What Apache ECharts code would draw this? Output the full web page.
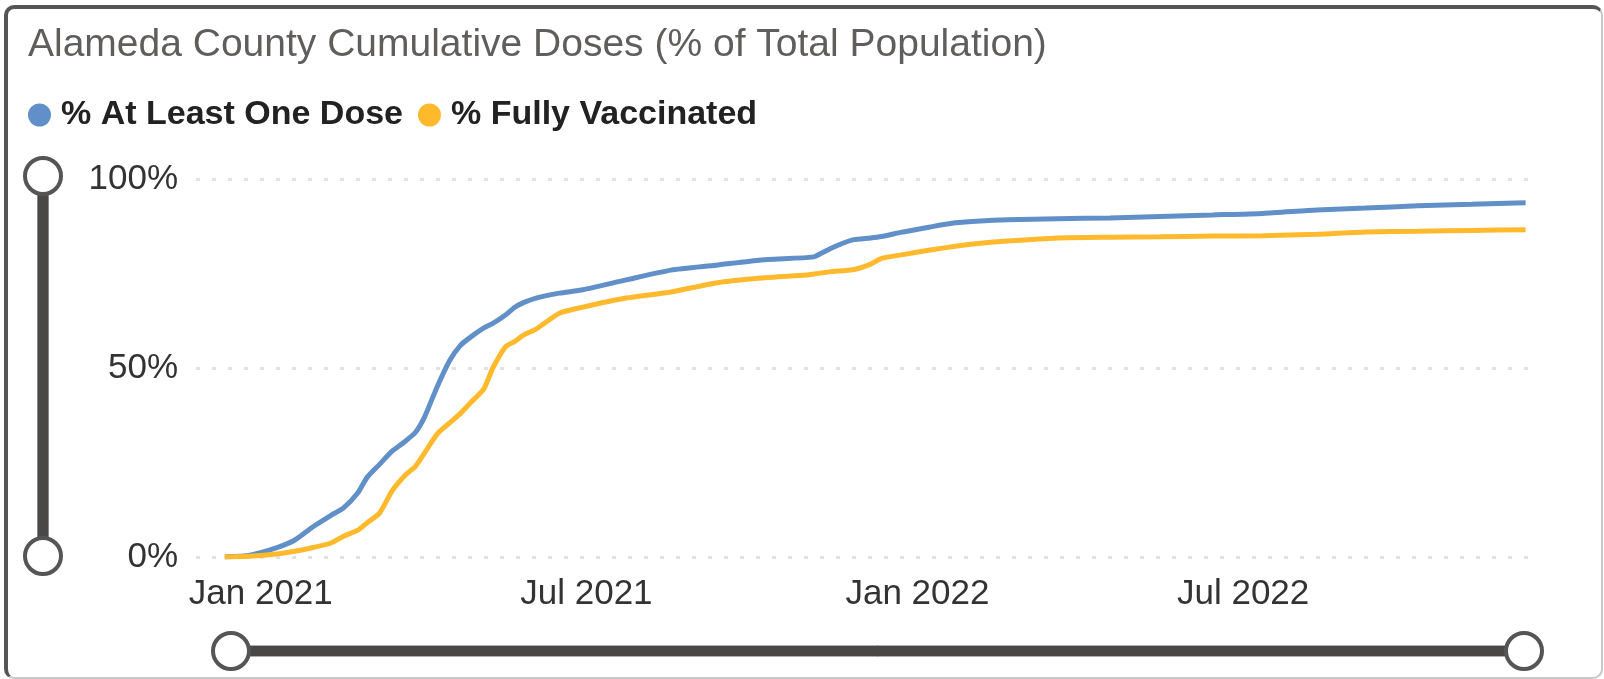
<!DOCTYPE html>
<html>
<head>
<meta charset="utf-8">
<script src="https://cdn.jsdelivr.net/npm/echarts@6/dist/echarts.min.js"></script>
<style>
  html, body { margin: 0; padding: 0; background: #fff; }
  #chart { position: absolute; left: 0; top: 0; width: 1604px; height: 679px; }
  #frame {
    position: absolute; left: 4px; top: 5px; width: 1599px; height: 674px;
    box-sizing: border-box; border-style: solid; border-radius: 10px;
    border-width: 4px 2px 2px 4px;
    border-color: #555 #c8c8c8 #c8c8c8 #555;
    pointer-events: none;
  }
</style>
</head>
<body>
<div id="chart"></div>
<div id="frame"></div>
<script>
// values (percent of total population)
const dates = [
  '2020-12-12', '2020-12-26', '2021-01-10', '2021-01-20', '2021-01-30',
  '2021-02-09', '2021-02-16', '2021-02-24', '2021-03-01', '2021-03-08',
  '2021-03-15', '2021-03-22', '2021-03-28', '2021-04-02', '2021-04-09',
  '2021-04-16', '2021-04-22', '2021-04-28', '2021-05-05', '2021-05-10',
  '2021-05-17', '2021-05-22', '2021-05-27', '2021-06-03', '2021-06-16',
  '2021-06-29', '2021-07-23', '2021-08-17', '2021-09-11', '2021-10-06',
  '2021-10-31', '2021-11-05', '2021-11-14', '2021-11-26', '2021-12-06',
  '2021-12-12', '2021-12-24', '2022-01-08', '2022-01-22', '2022-02-05',
  '2022-02-20', '2022-03-20', '2022-04-18', '2022-05-16', '2022-06-14',
  '2022-07-12', '2022-08-11', '2022-09-07', '2022-10-06', '2022-11-05',
  '2022-12-05'
]
const oneDose = [
  0.0, 0.5, 2.5, 4.5, 8.0,
  11.0, 13.0, 17.0, 21.0, 24.5,
  28.0, 30.5, 33.0, 37.0, 45.0,
  52.0, 56.0, 58.3, 60.6, 61.8,
  64.0, 66.0, 67.3, 68.5, 69.8,
  70.7, 73.3, 75.9, 77.2, 78.6,
  79.2, 79.5, 81.7, 83.9, 84.4,
  84.8, 86.0, 87.3, 88.4, 88.9,
  89.2, 89.5, 89.7, 90.1, 90.5,
  90.9, 91.8, 92.3, 92.9, 93.3,
  93.7
]
const fullyVacc = [
  0.0, 0.2, 0.8, 1.5, 2.5,
  3.7, 5.5, 7.1, 9.0, 11.6,
  17.5, 21.5, 24.0, 27.5, 32.5,
  35.5, 38.0, 41.0, 44.5, 50.0,
  55.6, 57.0, 58.7, 60.3, 64.5,
  66.1, 68.5, 70.1, 72.5, 73.8,
  74.6, 74.9, 75.5, 76.0, 77.5,
  79.0, 80.0, 81.2, 82.2, 83.0,
  83.6, 84.4, 84.6, 84.7, 84.9,
  85.0, 85.4, 86.0, 86.2, 86.4,
  86.6
]
const xTickDates = ['2021-01-01', '2021-07-01', '2022-01-01', '2022-07-01']
const monthNames = ['Jan', 'Feb', 'Mar', 'Apr', 'May', 'Jun', 'Jul', 'Aug', 'Sep', 'Oct', 'Nov', 'Dec']

function toTime (s) {
  const p = s.split('-')
  return new Date(+p[0], +p[1] - 1, +p[2]).getTime()
}

const font = 'Liberation Sans, Arial, sans-serif'
const blue = '#6190c8'
const orange = '#ffb92c'

const chart = echarts.init(document.getElementById('chart'))
const option = {
  animation: false,
  title: {
    text: 'Alameda County Cumulative Doses (% of Total Population)',
    left: 28,
    top: 26,
    padding: 0,
    textStyle: { fontFamily: font, fontSize: 39, fontWeight: 'normal', color: '#605e5c' }
  },
  legend: {
    left: 28,
    top: 98,
    padding: 0,
    icon: 'circle',
    itemWidth: 23,
    itemHeight: 23,
    itemGap: 15,
    textStyle: { fontFamily: font, fontSize: 34, fontWeight: 'bold', color: '#222', padding: [0, 0, 0, 5] }
  },
  grid: { left: 196, right: 64, top: 179, bottom: 122 },
  xAxis: {
    type: 'value',
    min: toTime('2020-11-26'),
    max: toTime('2022-12-13'),
    axisLine: { show: false },
    axisTick: { show: false },
    splitLine: { show: false },
    axisLabel: {
      customValues: xTickDates.map(toTime),
      margin: 20,
      fontFamily: font,
      fontSize: 35,
      color: '#333',
      formatter: function (v) {
        const d = new Date(v)
        return monthNames[d.getMonth()] + ' ' + d.getFullYear()
      }
    }
  },
  yAxis: {
    type: 'value',
    min: 0,
    max: 100,
    interval: 50,
    axisLine: { show: false },
    axisTick: { show: false },
    axisLabel: {
      margin: 18,
      fontFamily: font,
      fontSize: 35,
      color: '#333',
      padding: [4, 0, 0, 0],
      formatter: '{value}%'
    },
    splitLine: { lineStyle: { color: '#e2e2e2', width: 3, type: [4, 12] } }
  },
  dataZoom: [
    {
      type: 'slider',
      xAxisIndex: 0,
      left: 227,
      right: 82,
      top: 645,
      height: 12,
      filterMode: 'none',
      showDetail: false,
      showDataShadow: false,
      brushSelect: false,
      moveHandleSize: 0,
      backgroundColor: '#4a4846',
      fillerColor: '#4a4846',
      borderColor: '#b0aeac',
      borderRadius: 0,
      handleIcon: 'circle',
      handleSize: 36,
      handleStyle: { color: '#fff', borderColor: '#555', borderWidth: 4 },
      dataBackground: { lineStyle: { opacity: 0 }, areaStyle: { opacity: 0 } },
      selectedDataBackground: { lineStyle: { opacity: 0 }, areaStyle: { opacity: 0 } }
    },
    {
      type: 'slider',
      yAxisIndex: 0,
      orient: 'vertical',
      left: 35,
      width: 12,
      top: 175,
      bottom: 122,
      filterMode: 'none',
      showDetail: false,
      showDataShadow: false,
      brushSelect: false,
      moveHandleSize: 0,
      backgroundColor: '#4a4846',
      fillerColor: '#4a4846',
      borderColor: '#8a8886',
      borderRadius: 0,
      handleIcon: 'circle',
      handleSize: 36,
      handleStyle: { color: '#fff', borderColor: '#555', borderWidth: 4 },
      dataBackground: { lineStyle: { opacity: 0 }, areaStyle: { opacity: 0 } },
      selectedDataBackground: { lineStyle: { opacity: 0 }, areaStyle: { opacity: 0 } }
    }
  ],
  series: [
    {
      name: '% At Least One Dose',
      type: 'line',
      symbol: 'none',
      smooth: 0.2,
      color: blue,
      lineStyle: { width: 5, color: blue },
      data: dates.map((d, i) => [toTime(d), oneDose[i]])
    },
    {
      name: '% Fully Vaccinated',
      type: 'line',
      symbol: 'none',
      smooth: 0.2,
      color: orange,
      lineStyle: { width: 5, color: orange },
      data: dates.map((d, i) => [toTime(d), fullyVacc[i]])
    }
  ]
}
chart.setOption(option)
</script>
</body>
</html>
